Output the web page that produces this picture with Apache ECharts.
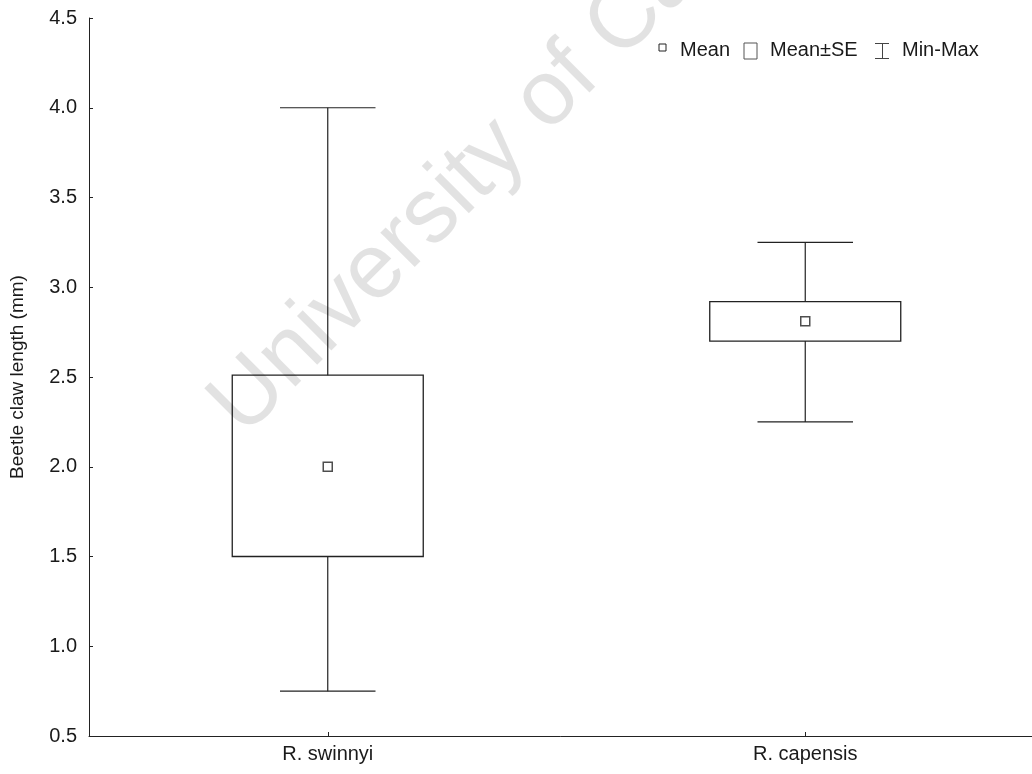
<!DOCTYPE html>
<html>
<head>
<meta charset="utf-8">
<title>Beetle claw length</title>
<script src="https://cdn.jsdelivr.net/npm/echarts@6/dist/echarts.min.js"></script>
<style>
  html, body { margin: 0; padding: 0; background: #fff; }
  #chart { width: 1032px; height: 774px; }
</style>
</head>
<body>
<div id="chart"></div>
<script>
// Claw length summary per species (mm)
const categories = ['R. swinnyi', 'R. capensis'];
const meanValues = [2.00, 2.81];
const seLow = [1.50, 2.70];
const seHigh = [2.51, 2.92];
const minValues = [0.75, 2.25];
const maxValues = [4.00, 3.25];

const INK = '#222';
const FONT = "'Liberation Sans', Arial, Helvetica, sans-serif";

const chart = echarts.init(document.getElementById('chart'), null, { renderer: 'canvas' });

// Whisker: vertical line from min to max with short caps
function renderWhisker(params, api) {
  const idx = api.value(0);
  const x = api.coord([idx, 0])[0];
  const yMin = api.coord([idx, api.value(1)])[1];
  const yMax = api.coord([idx, api.value(2)])[1];
  const band = api.size([1, 0])[0];
  const half = band * 0.1;
  const st = { stroke: INK, lineWidth: 1.2 };
  return {
    type: 'group',
    children: [
      { type: 'line', shape: { x1: x, y1: yMax, x2: x, y2: yMin }, style: st },
      { type: 'line', shape: { x1: x - half, y1: yMax, x2: x + half, y2: yMax }, style: st },
      { type: 'line', shape: { x1: x - half, y1: yMin, x2: x + half, y2: yMin }, style: st }
    ]
  };
}

// Box: mean ± standard error
function renderBox(params, api) {
  const idx = api.value(0);
  const x = api.coord([idx, 0])[0];
  const yLo = api.coord([idx, api.value(1)])[1];
  const yHi = api.coord([idx, api.value(2)])[1];
  const band = api.size([1, 0])[0];
  const w = band * 0.4;
  return {
    type: 'rect',
    shape: { x: x - w / 2, y: yHi, width: w, height: yLo - yHi },
    style: { fill: '#fff', stroke: INK, lineWidth: 1.3 }
  };
}

const option = {
  backgroundColor: '#fff',
  animation: false,
  textStyle: { fontFamily: FONT },
  grid: { left: 89, right: -12, top: 18, bottom: 38, containLabel: false, outerBoundsMode: 'none' },
  xAxis: {
    type: 'category',
    data: categories,
    axisLine: { show: true, lineStyle: { color: INK, width: 1 } },
    axisTick: { show: true, inside: true, length: 4, alignWithLabel: true, lineStyle: { color: INK } },
    axisLabel: { fontSize: 20, color: '#1a1a1a', margin: 8, fontFamily: FONT },
    splitLine: { show: false }
  },
  yAxis: {
    type: 'value',
    min: 0.5,
    max: 4.5,
    interval: 0.5,
    name: 'Beetle claw length (mm)',
    nameLocation: 'middle',
    nameRotate: 90,
    nameGap: 62,
    nameTextStyle: { fontSize: 19, color: '#1a1a1a', fontFamily: FONT },
    axisLine: { show: true, lineStyle: { color: INK, width: 1 } },
    axisTick: { show: true, inside: true, length: 4, lineStyle: { color: INK } },
    axisLabel: {
      fontSize: 20, color: '#1a1a1a', margin: 12, fontFamily: FONT,
      formatter: v => v.toFixed(1)
    },
    splitLine: { show: false }
  },
  graphic: [
    // Faint translucent stamp laid over the plot
    {
      type: 'text', x: 226, y: 420, rotation: Math.PI / 4, z: 100, silent: true,
      style: {
        text: 'University of Cape Town',
        font: "92px 'Liberation Sans', Arial, sans-serif",
        fill: 'rgba(0,0,0,0.115)', align: 'left', verticalAlign: 'middle'
      }
    },
    // Key
    { type: 'rect', shape: { x: 659, y: 44, width: 7, height: 7 }, style: { fill: '#fff', stroke: INK, lineWidth: 1 } },
    { type: 'text', x: 680, y: 50, style: { text: 'Mean', font: "20px 'Liberation Sans', Arial, sans-serif", fill: '#1a1a1a', verticalAlign: 'middle' } },
    { type: 'rect', shape: { x: 744, y: 43, width: 13, height: 16 }, style: { fill: '#fff', stroke: '#555', lineWidth: 1 } },
    { type: 'text', x: 770, y: 50, style: { text: 'Mean±SE', font: "20px 'Liberation Sans', Arial, sans-serif", fill: '#1a1a1a', verticalAlign: 'middle' } },
    { type: 'line', shape: { x1: 875, y1: 43.5, x2: 889, y2: 43.5 }, style: { stroke: '#444', lineWidth: 1 } },
    { type: 'line', shape: { x1: 882.5, y1: 43.5, x2: 882.5, y2: 58.5 }, style: { stroke: '#444', lineWidth: 1 } },
    { type: 'line', shape: { x1: 875, y1: 58.5, x2: 889, y2: 58.5 }, style: { stroke: '#444', lineWidth: 1 } },
    { type: 'text', x: 902, y: 50, style: { text: 'Min-Max', font: "20px 'Liberation Sans', Arial, sans-serif", fill: '#1a1a1a', verticalAlign: 'middle' } }
  ],
  series: [
    {
      name: 'Min-Max',
      type: 'custom',
      renderItem: renderWhisker,
      encode: { x: 0, y: [1, 2] },
      data: categories.map((c, i) => [i, minValues[i], maxValues[i]]),
      z: 2
    },
    {
      name: 'Mean±SE',
      type: 'custom',
      renderItem: renderBox,
      encode: { x: 0, y: [1, 2] },
      data: categories.map((c, i) => [i, seLow[i], seHigh[i]]),
      z: 3
    },
    {
      name: 'Mean',
      type: 'scatter',
      symbol: 'rect',
      symbolSize: 9,
      itemStyle: { color: '#fff', borderColor: INK, borderWidth: 1.5 },
      data: categories.map((c, i) => [c, meanValues[i]]),
      z: 4
    }
  ]
};

chart.setOption(option);
</script>
</body>
</html>
